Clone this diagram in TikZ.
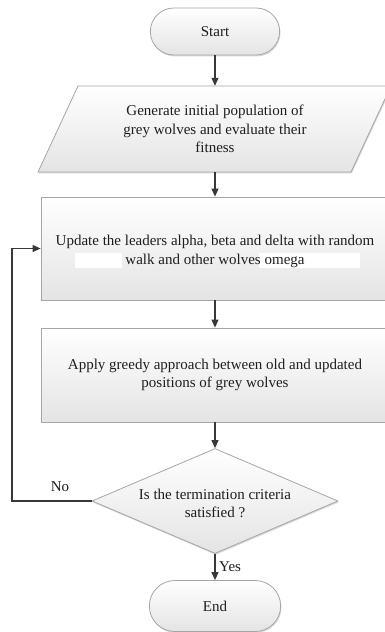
\documentclass[tikz,border=0pt]{standalone}
\usepackage{fontspec}
\setmainfont{Liberation Serif}
\usetikzlibrary{arrows.meta,shapes.geometric,shapes.misc,shadows}
\definecolor{bordc}{HTML}{A6A6A6}
\definecolor{linec}{HTML}{383838}
\definecolor{txtc}{HTML}{1E1E1E}
\definecolor{shadebot}{HTML}{E4E4E4}
\tikzset{
  boxfill/.style={top color=white, bottom color=shadebot, draw=bordc, line width=0.8pt,
    drop shadow={shadow xshift=0.8pt, shadow yshift=-1.4pt, opacity=0.3, fill=gray}},
  txt/.style={text=txtc, font=\fontsize{15}{18.5}\selectfont, align=center},
  termbox/.style={boxfill, txt, rounded rectangle},
  procbox/.style={boxfill, rectangle, minimum width=348pt},
  decbox/.style={boxfill, diamond, minimum width=246pt, minimum height=105pt, inner sep=0pt},
  flow/.style={draw=linec, line width=1.1pt, -{Triangle[length=8pt,width=7pt]}},
  lbl/.style={text=txtc, font=\fontsize{15}{18}\selectfont, inner sep=0pt}
}
\begin{document}
\begin{tikzpicture}[x=1pt,y=-1pt]
\useasboundingbox (0,0) rectangle (385,632);
\clip (0,0) rectangle (385,632);
\fill[white] (0,0) rectangle (385,632);

% Start
\node[termbox, minimum width=136pt, minimum height=47pt] (start) at (215,31.5) {Start};

% Parallelogram
\draw[boxfill] (78,86) -- (391,86) -- (351,172) -- (38,172) -- cycle;
\node[txt, minimum width=200pt, minimum height=86pt, inner sep=0pt] (gen) at (215,129)
  {Generate initial population of\\grey wolves and evaluate their\\fitness};

% Update box
\node[procbox, minimum height=103pt] (upd) at (215,248.5) {};
\fill[white] (75,253) rectangle (122,268);
\fill[white] (259,253) rectangle (360,268);
\node[txt] (updtxt) at (215,251.5)
  {Update the leaders alpha, beta and delta with random\\walk and other wolves omega};

% Apply box
\node[procbox, txt, minimum height=94pt] (app) at (215,375)
  {Apply greedy approach between old and updated\\positions of grey wolves};

% Decision
\node[decbox] (dec) at (215,501) {};
\node[txt] (dectxt) at (215,503.5) {Is the termination criteria\\satisfied ?};

% End
\node[termbox, minimum width=138pt, minimum height=51pt] (end) at (215,606) {End};

% Connectors
\draw[flow] (start.south) -- (gen.north);
\draw[flow] (gen.south) -- (upd.north);
\draw[flow] (upd.south) -- (app.north);
\draw[flow] (app.south) -- (dec.north);
\draw[flow] (dec.south) -- (end.north);
\coordinate (lp) at (12,501);
\draw[flow] (dec.west) -- (lp) |- (upd.west);

% Labels
\node[lbl] (nolbl) at (60,487) {No};
\node[lbl, anchor=west] (yeslbl) at (219,567) {Yes};
\end{tikzpicture}
\end{document}
